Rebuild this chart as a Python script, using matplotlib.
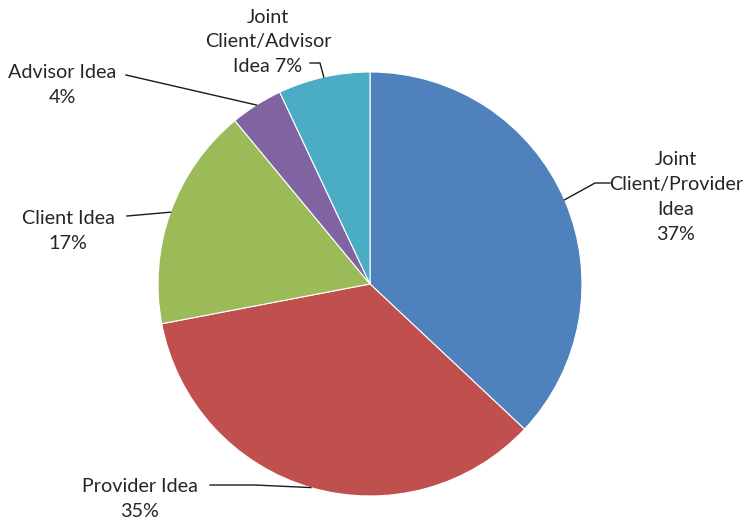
import numpy as np
import matplotlib.pyplot as plt

# Origen de las ideas
categorias = ['Joint\nClient/Provider\nIdea', 'Provider Idea', 'Client Idea',
              'Advisor Idea', 'Joint\nClient/Advisor\nIdea']
porcentajes = [37, 35, 17, 4, 7]
separador = ['\n', '\n', '\n', '\n', ' ']
colores = ['#4F81BD', '#C0504D', '#9BBB59', '#8064A2', '#4BACC6']

# Posicion de cada etiqueta (pixeles) y codo de la linea guia
pos_etiqueta = [(676, 197), (140, 499), (68, 231), (62, 85), (268, 42)]
codo = [(595, 183), (255, 485), None, None, (320, 63)]
inicio_linea = [(610, 183), (210, 485), (127, 216), (126, 75), (310, 63)]

W, H = 744, 519
cx, cy, R = 370, 284, 212


def px(p):
    return ((p[0] - cx) / R, (cy - p[1]) / R)


fig = plt.figure(figsize=(W / 100, H / 100), dpi=100)
ax = fig.add_axes([0, 0, 1, 1])
plt.rcParams['font.family'] = ['Lato', 'DejaVu Sans']

wedges, _ = ax.pie(porcentajes, colors=colores, startangle=90, counterclock=False,
                   radius=1, wedgeprops=dict(edgecolor='white', linewidth=0.8))

for i, w in enumerate(wedges):
    ang = np.deg2rad((w.theta1 + w.theta2) / 2)
    borde = (np.cos(ang), np.sin(ang))
    pts = [px(inicio_linea[i])]
    if codo[i] is not None:
        pts.append(px(codo[i]))
    pts.append(borde)
    xs, ys = zip(*pts)
    ax.plot(xs, ys, color='#1a1a1a', lw=1)
    tx, ty = px(pos_etiqueta[i])
    texto = f'{categorias[i]}{separador[i]}{porcentajes[i]}%'
    ax.text(tx, ty, texto, ha='center', va='center', fontsize=14.2,
            color='#262626', linespacing=1.55)

ax.set_xlim(-cx / R, (W - cx) / R)
ax.set_ylim((cy - H) / R, cy / R)
ax.set_aspect('equal')
ax.axis('off')
fig.savefig('out.png', dpi=100)
